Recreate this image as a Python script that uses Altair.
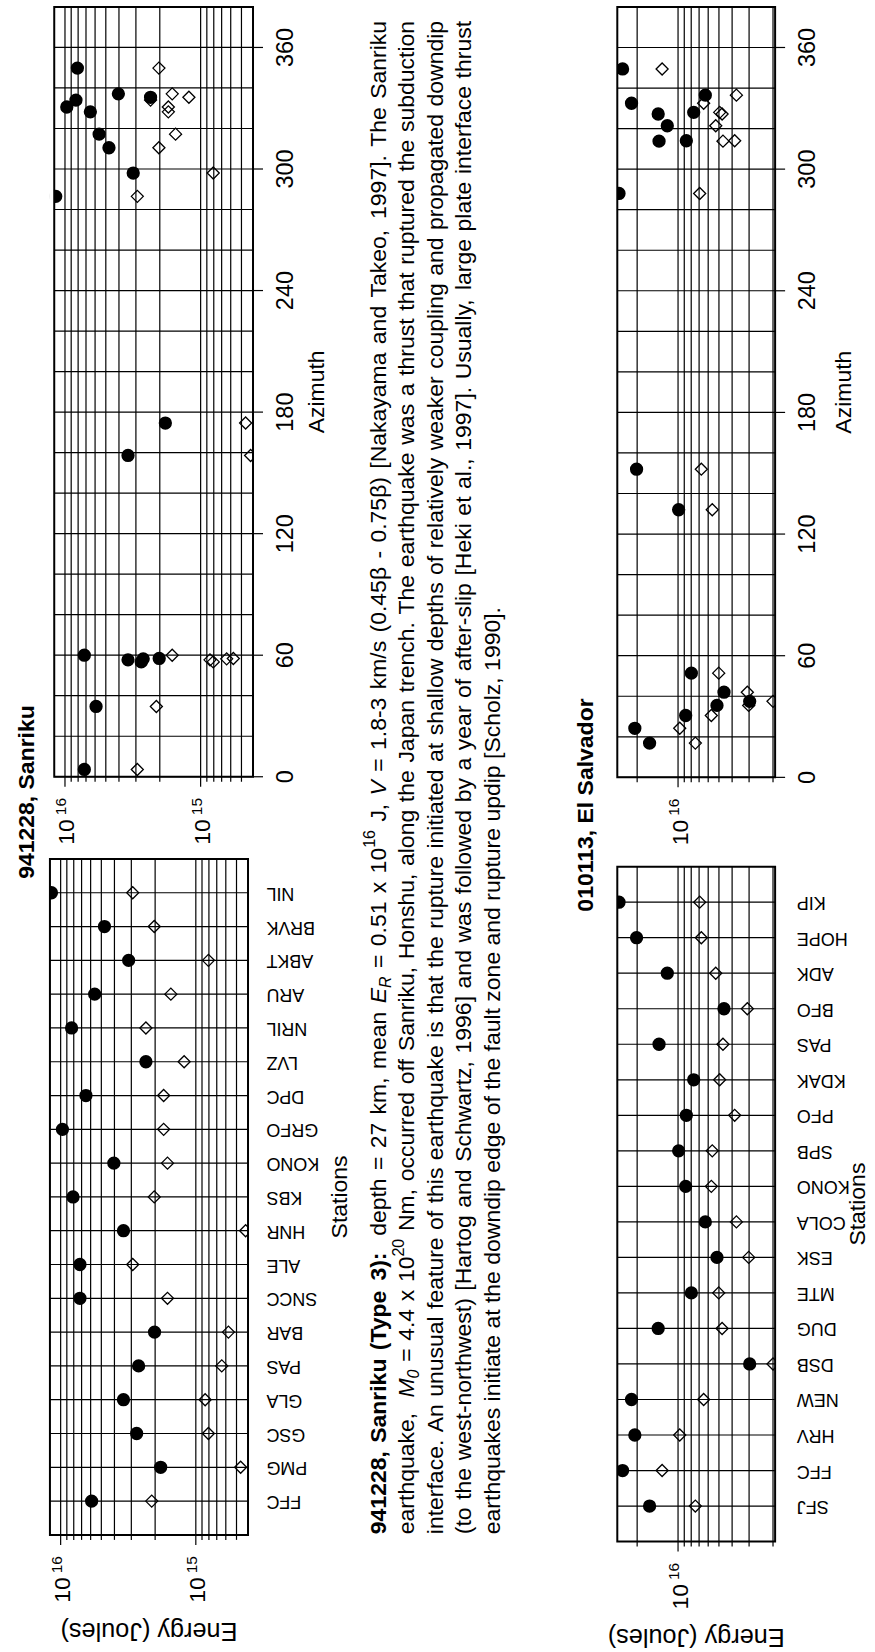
import math
import altair as alt
import pandas as pd

# ------------------------------------------------------------------
# Radiated energy per station (Joules): filled circles and open diamonds,
# with the source-to-station azimuth (degrees) of each station.
# ------------------------------------------------------------------
SAN_TITLE = "941228, Sanriku"
SAN_STATIONS = ["FFC", "PMG", "GSC", "GLA", "PAS", "BAR", "SNCC", "ALE", "HNR", "KBS",
                "KONO", "GRFO", "DPC", "LVZ", "NRIL", "ARU", "ABKT", "BRVK", "NIL"]
SAN_AZIMUTH = [34.7, 174.6, 56.7, 57.7, 58.2, 58.4, 60.0, 3.6, 158.6, 349.8,
               337.1, 330.6, 328.2, 335.4, 334.0, 317.2, 298.0, 310.5, 286.5]
SAN_E_CIRCLE = [5.9e15, 1.82e15, 2.74e15, 3.43e15, 2.65e15, 2.02e15, 7.2e15, 7.2e15, 3.43e15, 8.1e15,
                4.04e15, 9.7e15, 6.5e15, 2.34e15, 8.3e15, 5.6e15, 3.14e15, 4.74e15, 1.17e16]
SAN_E_DIAMOND = [2.12e15, 4.66e14, 8.07e14, 8.53e14, 6.43e14, 5.74e14, 1.62e15, 2.93e15, 4.28e14, 2.03e15,
                 1.62e15, 1.73e15, 1.73e15, 1.22e15, 2.34e15, 1.53e15, 8.07e14, 2.03e15, 2.93e15]
SAN_ENERGY_RANGE = [4.11e14, 1.2e16]

ELS_TITLE = "010113, El Salvador"
ELS_STATIONS = ["SFJ", "FFC", "HRV", "NEW", "DSB", "DUG", "MTE", "ESK", "COLA", "KONO",
                "SPB", "PFO", "KDAK", "PAS", "BFO", "ADK", "HOPE", "KIP"]
ELS_AZIMUTH = [16.9, 349.4, 24.2, 332.5, 37.5, 327.2, 51.4, 35.5, 336.5, 30.5,
               132.0, 314.0, 328.0, 313.8, 42.0, 321.4, 152.0, 288.0]
ELS_E_CIRCLE = [1.62e16, 2.56e16, 2.08e16, 2.2e16, 2.97e15, 1.40e16, 7.98e15, 5.17e15, 6.3e15, 8.79e15,
                9.9e15, 8.69e15, 7.67e15, 1.38e16, 4.59e15, 1.2e16, 2.02e16, 2.72e16]
ELS_E_DIAMOND = [7.46e15, 1.31e16, 9.72e15, 6.48e15, 2.0e15, 4.74e15, 5.02e15, 3.02e15, 3.72e15, 5.69e15,
                 5.6e15, 3.83e15, 4.94e15, 4.67e15, 3.09e15, 5.28e15, 6.74e15, 6.93e15]
ELS_ENERGY_RANGE = [1.93e15, 2.8e16]

ENERGY_TITLE = "Energy (Joules)"
AZ_TITLE = "Azimuth"
ST_TITLE = "Stations"
AZ_DOMAIN = [0, 380]
AZ_TICKS = [0, 60, 120, 180, 240, 300, 360]
AZ_GRID = list(range(0, 361, 20))

FONT = "Liberation Sans"
INK = "black"
GRID_W = 1.2
FRAME_W = 2.0

# ------------------------------------------------------------------
# Page geometry (the figure is laid out turned on its side)
# ------------------------------------------------------------------
PAGE_W, PAGE_H = 875, 1652
LEFT, TOP = 50, 6
COL1_W = 203.3            # Sanriku column
CAP_X = LEFT + COL1_W     # caption column starts here
ELS_X = 617.0
CAP_W = ELS_X - CAP_X
ROW1_H = 771.3
ROW_GAP = 81.0            # second row starts at TOP + ROW1_H + ROW_GAP


def grid_values(lo, hi):
    out = []
    for p in range(13, 18):
        for m in range(1, 10):
            v = float(m) * 10.0 ** p
            if lo <= v <= hi:
                out.append(v)
    return out


def is_decade(v):
    return abs(math.log10(v) - round(math.log10(v))) < 1e-9


def text_layer(df, **mark):
    return alt.Chart(df).mark_text(font=FONT, color=INK, **mark)


def panel(kind, stations, azimuth, e_circle, e_diamond, e_range, x0, y0, w, h,
          st_gap=18.4, az_lbl=40.0, az_title=71.0, st_title=99.0):
    """One framed panel; the frame sits at (x0, y0) inside its cell."""
    df = pd.DataFrame({"station": stations, "azimuth": azimuth,
                       "ec": e_circle, "ed": e_diamond})
    xs = alt.Scale(type="log", domain=e_range, range=[x0 + w, x0], nice=False)

    def X(f):
        return alt.X(f"{f}:Q", scale=xs, axis=None)

    gv = grid_values(*e_range)
    grid = pd.DataFrame({"e": gv, "major": [is_decade(v) for v in gv]})
    major = grid[grid["major"]].copy()
    major["base"] = "10"
    major["exp"] = [str(int(round(math.log10(v)))) for v in major["e"]]
    minor = grid[~grid["major"]]
    bottom = y0 + h
    right = x0 + w

    if kind == "stations":
        ys = alt.Scale(type="point", domain=stations, range=[bottom, y0], padding=1)
        Y = alt.Y("station:N", scale=ys, axis=None)
        hgrid = alt.Chart(df).mark_rule(color=INK, strokeWidth=GRID_W).encode(
            y=Y, x=alt.value(x0), x2=alt.value(right))
    else:
        ys = alt.Scale(domain=AZ_DOMAIN, range=[bottom, y0], nice=False, zero=False)
        Y = alt.Y("azimuth:Q", scale=ys, axis=None)
        hgrid = alt.Chart(pd.DataFrame({"azimuth": AZ_GRID})).mark_rule(
            color=INK, strokeWidth=GRID_W).encode(y=Y, x=alt.value(x0), x2=alt.value(right))

    vgrid = alt.Chart(grid).mark_rule(color=INK, strokeWidth=GRID_W).encode(
        x=X("e"), y=alt.value(y0), y2=alt.value(bottom))
    minor_ticks = alt.Chart(minor).mark_rule(color=INK, strokeWidth=GRID_W).encode(
        x=X("e"), y=alt.value(bottom), y2=alt.value(bottom + 5))
    major_ticks = alt.Chart(major).mark_rule(color=INK, strokeWidth=GRID_W).encode(
        x=X("e"), y=alt.value(bottom), y2=alt.value(bottom + 10))
    base_lbl = text_layer(major, fontSize=23, angle=270, align="left",
                          baseline="alphabetic", dy=9.5).encode(
        x=X("e"), y=alt.value(bottom + 68), text="base:N")
    exp_lbl = text_layer(major, fontSize=15.5, angle=270, align="left",
                         baseline="alphabetic", dy=1.3).encode(
        x=X("e"), y=alt.value(bottom + 38.5), text="exp:N")

    circles = alt.Chart(df).mark_point(shape="circle", filled=True, size=177, color=INK,
                                       opacity=1, clip=True).encode(x=X("ec"), y=Y)
    diamonds = alt.Chart(df).mark_point(shape="diamond", filled=False, size=145, color=INK,
                                        strokeWidth=1.3, opacity=1, clip=True).encode(x=X("ed"), y=Y)
    frame = alt.Chart(df.head(1)).mark_rect(fill="white", fillOpacity=0, stroke=INK,
                                            strokeWidth=FRAME_W).encode(
        x=alt.value(x0), x2=alt.value(right), y=alt.value(y0), y2=alt.value(bottom))

    layers = [vgrid, hgrid, minor_ticks, major_ticks, circles, diamonds]
    if x0 > 0:
        # keep markers inside the frame on the left edge
        layers.append(alt.Chart(df.head(1)).mark_rect(color="white").encode(
            x=alt.value(0), x2=alt.value(x0), y=alt.value(y0), y2=alt.value(bottom)))
    layers += [frame, base_lbl, exp_lbl]

    one = pd.DataFrame({"t": [""]})
    if kind == "stations":
        layers.append(text_layer(df, fontSize=18, angle=180, align="right",
                                 baseline="middle").encode(
            y=Y, x=alt.value(right + st_gap), text="station:N"))
        layers.append(text_layer(one.assign(t=ST_TITLE), fontSize=23, angle=270,
                                 align="center", baseline="alphabetic").encode(
            x=alt.value(right + st_title), y=alt.value(y0 + h / 2), text="t:N"))
        layers.append(text_layer(one.assign(t=ENERGY_TITLE), fontSize=25.3, angle=180,
                                 align="center", baseline="alphabetic").encode(
            x=alt.value(x0 + w / 2), y=alt.value(bottom + 88), text="t:N"))
    else:
        ticks = pd.DataFrame({"azimuth": AZ_TICKS, "lbl": [str(a) for a in AZ_TICKS]})
        layers.append(alt.Chart(ticks).mark_rule(color=INK, strokeWidth=GRID_W).encode(
            y=Y, x=alt.value(right), x2=alt.value(right + 10)))
        layers.append(text_layer(ticks, fontSize=23.5, angle=270, align="center",
                                 baseline="alphabetic").encode(
            y=Y, x=alt.value(right + az_lbl), text="lbl:N"))
        layers.append(text_layer(one.assign(t=AZ_TITLE), fontSize=23, angle=270,
                                 align="center", baseline="alphabetic").encode(
            x=alt.value(right + az_title), y=alt.value(y0 + h / 2), text="t:N"))

    return alt.layer(*layers).properties(width=x0 + w, height=y0 + h)


# ------------------------------------------------------------------
# Caption, set as justified lines of words (Helvetica/Arial advance widths)
# ------------------------------------------------------------------
REG_W = {" ": 278, "(": 333, ")": 333, ",": 278, "-": 333, ".": 278, "/": 278, ":": 278,
         "=": 584, "[": 278, "]": 278, "β": 575}
for ch in "0123456789":
    REG_W[ch] = 556
REG_W.update(dict(zip("ABCDEFGHIJKLMNOPQRSTUVWXYZ",
                      [667, 667, 722, 722, 667, 611, 778, 722, 278, 500, 667, 556, 833,
                       722, 778, 667, 778, 722, 667, 611, 722, 667, 944, 667, 667, 611])))
REG_W.update(dict(zip("abcdefghijklmnopqrstuvwxyz",
                      [556, 556, 500, 556, 556, 278, 556, 556, 222, 222, 500, 222, 833,
                       556, 556, 556, 556, 333, 500, 278, 556, 500, 722, 500, 500, 500])))
BOLD_W = {" ": 278, "(": 333, ")": 333, ",": 278, "-": 333, ".": 278, ":": 333}
for ch in "0123456789":
    BOLD_W[ch] = 556
BOLD_W.update(dict(zip("ABCDEFGHIJKLMNOPQRSTUVWXYZ",
                       [722, 722, 722, 722, 667, 611, 778, 722, 278, 556, 722, 611, 833,
                        722, 778, 667, 778, 722, 667, 611, 722, 667, 944, 667, 667, 611])))
BOLD_W.update(dict(zip("abcdefghijklmnopqrstuvwxyz",
                       [556, 611, 556, 611, 556, 333, 611, 611, 278, 278, 556, 278, 889,
                        611, 611, 611, 611, 389, 556, 333, 611, 556, 778, 556, 556, 500])))

CAP_FS = 23.0
CAP_Y0 = 1535.0
CAP_LEN = 1515.0
CAP_BASE_X = [385.5, 414.0, 442.5, 471.0, 499.5]
GAP = "GAP"


def w_text(s, style, size):
    tbl = BOLD_W if style == "b" else REG_W
    return sum(tbl.get(c, 556) for c in s) * size / 1000.0


def words(s, style="n"):
    return [[(t, style, 1.0, 0.0)] for t in s.split()]


def sub(base, idx):
    return [[(base, "i", 1.0, 0.0), (idx, "i", 0.7, 0.22)]]


def power(exp):
    return [[("10", "n", 1.0, 0.0), (exp, "n", 0.7, -0.45)]]


CAPTION = [
    (words("941228, Sanriku (Type 3):", "b") + [GAP] + words("depth = 27 km, mean")
     + sub("E", "R") + words("= 0.51 x") + power("16") + words("J,") + [[("V", "i", 1.0, 0.0)]]
     + words("= 1.8-3 km/s (0.45β - 0.75β) [Nakayama and Takeo, 1997]. The Sanriku"), True),
    (words("earthquake,") + [GAP] + sub("M", "0") + words("= 4.4 x") + power("20")
     + words("Nm, occurred off Sanriku, Honshu, along the Japan trench. "
             "The earthquake was a thrust that ruptured the subduction"), True),
    (words("interface. An unusual feature of this earthquake is that the rupture initiated "
           "at shallow depths of relatively weaker coupling and propagated downdip"), True),
    (words("(to the west-northwest) [Hartog and Schwartz, 1996] and was followed by a year "
           "of after-slip [Heki et al., 1997]. Usually, large plate interface thrust"), True),
    (words("earthquakes initiate at the downdip edge of the fault zone and rupture updip "
           "[Scholz, 1990]."), False),
]


def layout_line(line, base_x, justify):
    items, extra = [], 0
    for w in line:
        if w == GAP:
            extra += 1
            continue
        items.append((w, extra))
        extra = 0
    widths = [sum(w_text(t, st, CAP_FS * sc) for t, st, sc, _ in w) for w, _ in items]
    weights = [1 + ex for _, ex in items[1:]]
    space = w_text(" ", "n", CAP_FS)
    unit = (CAP_LEN - sum(widths)) / sum(weights) if justify else space
    unit = max(unit, 0.5 * space)
    recs, pos = [], 0.0
    for i, ((w, ex), wd) in enumerate(zip(items, widths)):
        if i > 0:
            pos += unit * (1 + ex)
        p = pos
        for t, st, sc, sh in w:
            recs.append({"t": t, "style": st, "scale": sc,
                         "x": base_x + sh * CAP_FS - CAP_X, "y": CAP_Y0 - p - TOP})
            p += w_text(t, st, CAP_FS * sc)
        pos += wd
    return recs


cap_recs = []
for (line, just), bx in zip(CAPTION, CAP_BASE_X):
    cap_recs += layout_line(line, bx, just)
cap_df = pd.DataFrame(cap_recs)

cap_layers = []
for (style, scale), part in cap_df.groupby(["style", "scale"]):
    mark = dict(fontSize=CAP_FS * scale, angle=270, align="left", baseline="alphabetic")
    if style == "b":
        mark["fontWeight"] = "bold"
    if style == "i":
        mark["fontStyle"] = "italic"
    cap_layers.append(text_layer(part, **mark).encode(
        x=alt.X("x:Q", scale=None, axis=None), y=alt.Y("y:Q", scale=None, axis=None),
        text="t:N"))

# event titles
titles = pd.DataFrame({"t": [SAN_TITLE, ELS_TITLE],
                       "x": [33.3 - CAP_X, 593.3 - CAP_X],
                       "y": [792.0 - TOP, 805.0 - TOP]})
cap_layers.append(text_layer(titles, fontSize=23, fontWeight="bold", angle=270,
                             align="center", baseline="alphabetic").encode(
    x=alt.X("x:Q", scale=None, axis=None), y=alt.Y("y:Q", scale=None, axis=None),
    text="t:N"))

# page extent marker (invisible) so the figure starts at the page corner
cap_layers.append(alt.Chart(pd.DataFrame({"t": [""]})).mark_rule(opacity=0).encode(
    x=alt.value(-CAP_X), x2=alt.value(PAGE_W - CAP_X),
    y=alt.value(-TOP), y2=alt.value(PAGE_H - TOP)))

caption = alt.layer(*cap_layers).properties(width=CAP_W, height=1)
blank = alt.Chart(pd.DataFrame({"t": [""]})).mark_point(opacity=0).encode(
    x=alt.value(0), y=alt.value(0)).properties(width=1, height=1)

# ------------------------------------------------------------------
# Panels: top row azimuth, bottom row stations
# ------------------------------------------------------------------
san_az = panel("azimuth", SAN_STATIONS, SAN_AZIMUTH, SAN_E_CIRCLE, SAN_E_DIAMOND,
               SAN_ENERGY_RANGE, 4.3, 0.0, 199.0, 770.7, az_lbl=40.0, az_title=71.0)
san_st = panel("stations", SAN_STATIONS, SAN_AZIMUTH, SAN_E_CIRCLE, SAN_E_DIAMOND,
               SAN_ENERGY_RANGE, 0.0, 0.0, 198.3, 676.7, st_gap=18.4, st_title=99.0)
els_az = panel("azimuth", ELS_STATIONS, ELS_AZIMUTH, ELS_E_CIRCLE, ELS_E_DIAMOND,
               ELS_ENERGY_RANGE, 0.0, 0.0, 158.0, 771.3, az_lbl=40.0, az_title=76.0)
els_st = panel("stations", ELS_STATIONS, ELS_AZIMUTH, ELS_E_CIRCLE, ELS_E_DIAMOND,
               ELS_ENERGY_RANGE, 0.0, 7.7, 158.0, 675.7, st_gap=21.7, st_title=90.0)

chart = alt.concat(san_az, caption, els_az, san_st, blank, els_st,
                   columns=3, align="each", bounds="flush",
                   spacing={"row": ROW_GAP, "column": 0}).properties(
    padding=0, background="white").configure_view(strokeOpacity=0, strokeWidth=0)

chart.save("out.html", embed_options={"renderer": "svg", "actions": False})
